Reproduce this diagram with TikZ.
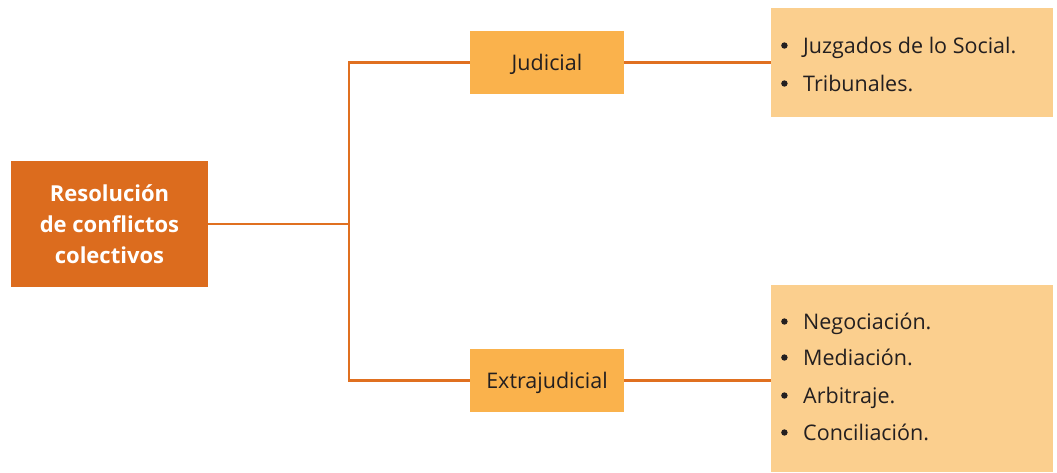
\documentclass[tikz,border=0pt]{standalone}
\usepackage{fontspec}
\setmainfont{Open Sans}
\definecolor{mainor}{HTML}{DC6C1E}
\definecolor{midor}{HTML}{FAB24C}
\definecolor{lightor}{HTML}{FBCF8E}
\definecolor{lineor}{HTML}{E07020}
\definecolor{txt}{HTML}{231F20}
\newcommand{\blt}{\makebox[22pt][l]{\tikz[baseline=-7.5pt]\fill[txt] (6pt,0) circle (3.2pt);}}
\tikzset{
  mainbox/.style={fill=mainor, text=white, font=\bfseries\fontsize{22}{31}\selectfont, align=center, inner sep=0pt},
  midbox/.style={fill=midor, text=txt, font=\fontsize{21.5}{24}\selectfont, inner sep=0pt, text depth=0pt},
  listbox/.style={fill=lightor, inner sep=0pt},
  item/.style={text=txt, font=\fontsize{21.5}{24}\selectfont, anchor=west, inner sep=0pt, text height=16pt, text depth=5pt},
  conn/.style={draw=lineor, line width=2.2pt}
}
\begin{document}
\begin{tikzpicture}[x=1pt,y=-1pt]
\useasboundingbox (0,0) rectangle (1057,472);
\node[mainbox, minimum width=197pt, minimum height=126pt] (main) at (109.5,224) {Resolución\\de conflictos\\colectivos};
\node[midbox, minimum width=154pt, minimum height=63pt] (jud) at (547,62.5) {Judicial};
\node[midbox, minimum width=154pt, minimum height=63pt] (ext) at (547,380.5) {Extrajudicial};
\node[listbox, minimum width=282pt, minimum height=109pt] (l1) at (912,62.5) {};
\node[listbox, minimum width=282pt, minimum height=187pt] (l2) at (912,378.5) {};
\coordinate (j) at (349,224);
\draw[conn] (main.east) -- (j);
\draw[conn] (jud.west) -| (j) |- (ext.west);
\draw[conn] (jud.east) -- (l1.west |- jud.east);
\draw[conn] (ext.east) -- (l2.west |- ext.east);
\node[item] (a1) at (781,47.5) {\blt Juzgados de lo Social.};
\node[item] (a2) at (781,85.5) {\blt Tribunales.};
\node[item] (b1) at (781,323.5) {\blt Negociación.};
\node[item] (b2) at (781,359.5) {\blt Mediación.};
\node[item] (b3) at (781,397.5) {\blt Arbitraje.};
\node[item] (b4) at (781,434.5) {\blt Conciliación.};
\end{tikzpicture}
\end{document}
